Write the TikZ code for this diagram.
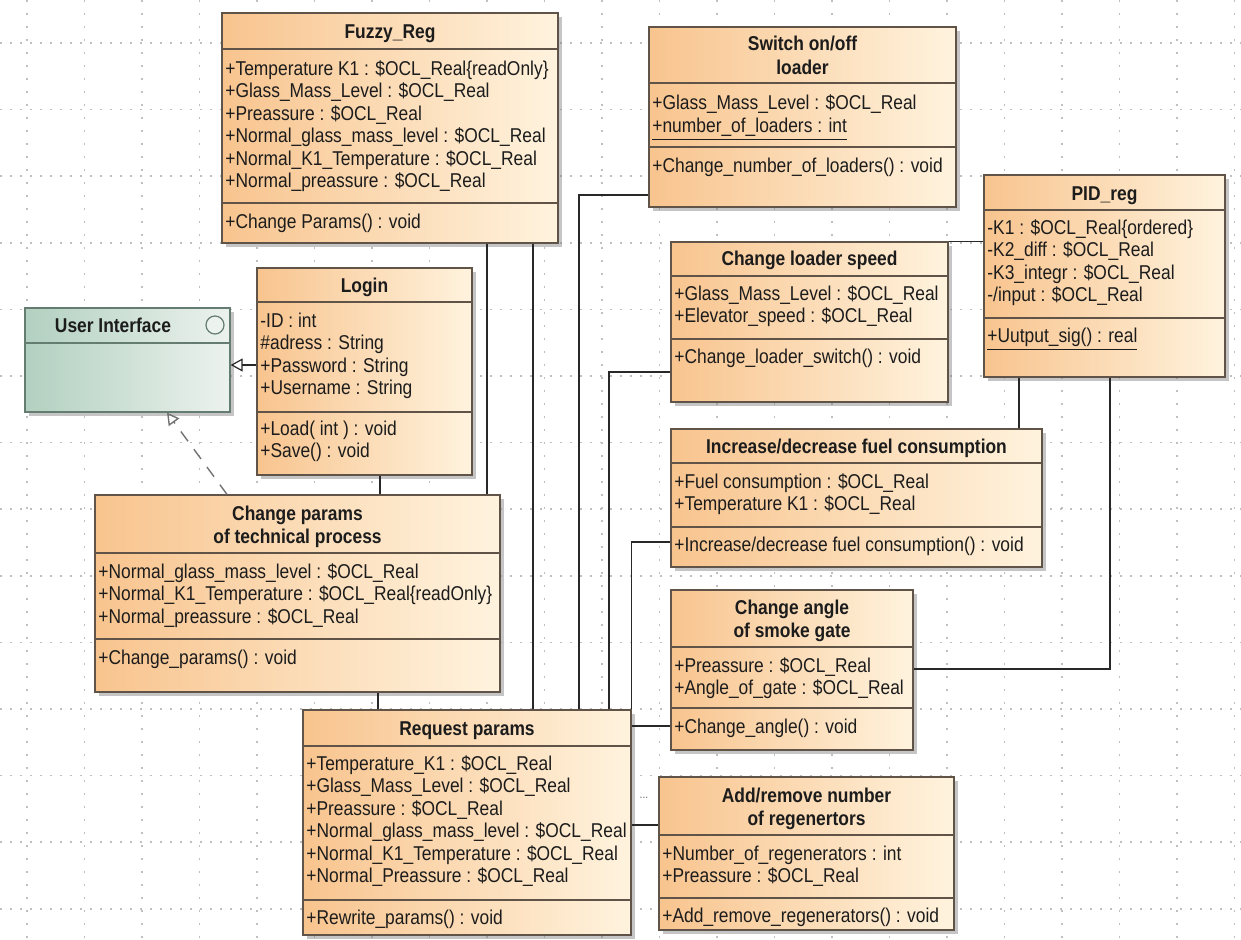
\documentclass[tikz,border=0pt]{standalone}
\usepackage{fontspec}
\setmainfont{Liberation Sans}[FakeStretch=0.87]
\usetikzlibrary{arrows.meta,shadows,fit}

\definecolor{classL}{RGB}{248,196,142}
\definecolor{classR}{RGB}{255,243,222}
\definecolor{ifaceL}{RGB}{178,208,192}
\definecolor{ifaceR}{RGB}{236,242,238}
\definecolor{boxline}{RGB}{96,84,72}
\definecolor{ifaceline}{RGB}{100,125,112}
\definecolor{txt}{RGB}{28,28,28}
\definecolor{connc}{RGB}{40,40,40}

\begin{document}
\begin{tikzpicture}[x=0.5pt, y=-0.5pt, font=\fontsize{10}{12}\selectfont,
	classbox/.style={draw=boxline, line width=0.6pt, left color=classL, right color=classR, inner sep=0pt,
		drop shadow={shadow xshift=1.8pt, shadow yshift=-1.8pt, fill=black!50, opacity=0.45}},
	ifacebox/.style={classbox, draw=ifaceline, left color=ifaceL, right color=ifaceR},
	sepline/.style={draw=boxline, line width=0.6pt},
	title/.style={font=\fontsize{10}{12}\selectfont\bfseries, text=txt, inner sep=0pt, text height=7.2pt, text depth=0pt},
	attr/.style={anchor=west, text=txt, inner sep=0pt, text height=7.2pt, text depth=0pt},
	conn/.style={draw=connc, line width=0.6pt},
	realize/.style={conn, -{Triangle[open, length=6pt, width=6.5pt]}},
	dep/.style={draw=black!55, line width=0.7pt, dash pattern=on 6pt off 5pt, -{Triangle[open, length=6pt, width=6.5pt]}},
	rowdots/.style={draw=black!25, line width=0.8pt, dash pattern=on 0.8pt off 4.2pt},
	coldots/.style={draw=black!25, line width=0.8pt, dash pattern=on 0.8pt off 5.7pt}]
	\def\dy{22.5} % line pitch
	
	\useasboundingbox (0,0) rectangle (1241,940);
	\fill[white] (0,0) rectangle (1241,940);
	
	% background grid
	\foreach \i in {0,...,21} \draw[coldots] ({27+57.5*\i},0) -- ({27+57.5*\i},940);
	\foreach \i in {0,...,13} \draw[rowdots] (0,{43+66.6*\i}) -- (1241,{43+66.6*\i});
	
	% Fuzzy_Reg
	\node[classbox, fit={(222,13) (558,243)}] (fuzzy) {};
	\draw[sepline] (fuzzy.west |- 0,49) -- (fuzzy.east |- 0,49);
	\draw[sepline] (fuzzy.west |- 0,203) -- (fuzzy.east |- 0,203);
	\node[title] (fuzzy-t) at (390,31) {Fuzzy\_Reg};
	\foreach \s [count=\i] in {{+Temperature K1 : \$OCL\_Real\{readOnly\}}, {+Glass\_Mass\_Level : \$OCL\_Real},
		{+Preassure : \$OCL\_Real}, {+Normal\_glass\_mass\_level : \$OCL\_Real},
		{+Normal\_K1\_Temperature : \$OCL\_Real}, {+Normal\_preassure : \$OCL\_Real}}
	\node[attr] (fuzzy-a\i) at (225,{68+\dy*(\i-1)}) {\s};
	\node[attr] (fuzzy-o1) at (225,221) {+Change Params() : void};
	
	% User Interface
	\node[ifacebox, fit={(25,308) (230,412)}] (ui) {};
	\draw[draw=ifaceline, line width=0.6pt] (ui.west |- 0,343) -- (ui.east |- 0,343);
	\node[title] (ui-t) at (113,325) {User Interface};
	\draw[draw=ifaceline, fill=ifaceR, line width=0.6pt] (215,325) circle (9);
	
	% Login
	\node[classbox, fit={(257,268) (472,475)}] (login) {};
	\draw[sepline] (login.west |- 0,302) -- (login.east |- 0,302);
	\draw[sepline] (login.west |- 0,412) -- (login.east |- 0,412);
	\node[title] (login-t) at (364.5,285) {Login};
	\foreach \s [count=\i] in {{-ID : int}, {\#adress : String}, {+Password : String}, {+Username : String}}
	\node[attr] (login-a\i) at (260,{320+\dy*(\i-1)}) {\s};
	\foreach \s [count=\i] in {{+Load( int ) : void}, {+Save() : void}}
	\node[attr] (login-o\i) at (260,{428+\dy*(\i-1)}) {\s};
	
	% Change params of technical process
	\node[classbox, fit={(95,495) (500,692)}] (chg) {};
	\draw[sepline] (chg.west |- 0,553) -- (chg.east |- 0,553);
	\draw[sepline] (chg.west |- 0,639) -- (chg.east |- 0,639);
	\node[title] (chg-t1) at (297.5,513) {Change params};
	\node[title] (chg-t2) at (297.5,536) {of technical process};
	\foreach \s [count=\i] in {{+Normal\_glass\_mass\_level : \$OCL\_Real},
		{+Normal\_K1\_Temperature : \$OCL\_Real\{readOnly\}}, {+Normal\_preassure : \$OCL\_Real}}
	\node[attr] (chg-a\i) at (98,{571+\dy*(\i-1)}) {\s};
	\node[attr] (chg-o1) at (98,657) {+Change\_params() : void};
	
	% Request params
	\node[classbox, fit={(303,710) (631,935)}] (req) {};
	\draw[sepline] (req.west |- 0,746) -- (req.east |- 0,746);
	\draw[sepline] (req.west |- 0,900) -- (req.east |- 0,900);
	\node[title] (req-t) at (467,728) {Request params};
	\foreach \s [count=\i] in {{+Temperature\_K1 : \$OCL\_Real}, {+Glass\_Mass\_Level : \$OCL\_Real},
		{+Preassure : \$OCL\_Real}, {+Normal\_glass\_mass\_level : \$OCL\_Real},
		{+Normal\_K1\_Temperature : \$OCL\_Real}, {+Normal\_Preassure : \$OCL\_Real}}
	\node[attr] (req-a\i) at (306,{763+\dy*(\i-1)}) {\s};
	\node[attr] (req-o1) at (306,917) {+Rewrite\_params() : void};
	
	% Switch on/off loader
	\node[classbox, fit={(649,27) (956,207)}] (switch) {};
	\draw[sepline] (switch.west |- 0,83) -- (switch.east |- 0,83);
	\draw[sepline] (switch.west |- 0,147) -- (switch.east |- 0,147);
	\node[title] (switch-t1) at (802.5,43) {Switch on/off};
	\node[title] (switch-t2) at (802.5,67) {loader};
	\node[attr] (switch-a1) at (652,102) {+Glass\_Mass\_Level : \$OCL\_Real};
	\node[attr] (switch-a2) at (652,125) {\underline{+number\_of\_loaders : int}};
	\node[attr] (switch-o1) at (652,165) {+Change\_number\_of\_loaders() : void};
	
	% Change loader speed
	\node[classbox, fit={(671,242) (948,402)}] (cls) {};
	\draw[sepline] (cls.west |- 0,276) -- (cls.east |- 0,276);
	\draw[sepline] (cls.west |- 0,339) -- (cls.east |- 0,339);
	\node[title] (cls-t) at (809.5,258) {Change loader speed};
	\node[attr] (cls-a1) at (674,293) {+Glass\_Mass\_Level : \$OCL\_Real};
	\node[attr] (cls-a2) at (674,315) {+Elevator\_speed : \$OCL\_Real};
	\node[attr] (cls-o1) at (674,356) {+Change\_loader\_switch() : void};
	
	% PID_reg
	\node[classbox, fit={(984,175) (1225,377)}] (pid) {};
	\draw[sepline] (pid.west |- 0,210) -- (pid.east |- 0,210);
	\draw[sepline] (pid.west |- 0,318) -- (pid.east |- 0,318);
	\node[title] (pid-t) at (1104.5,193) {PID\_reg};
	\foreach \s [count=\i] in {{-K1 : \$OCL\_Real\{ordered\}}, {-K2\_diff : \$OCL\_Real},
		{-K3\_integr : \$OCL\_Real}, {-/input : \$OCL\_Real}}
	\node[attr] (pid-a\i) at (987,{227+\dy*(\i-1)}) {\s};
	\node[attr] (pid-o1) at (987,335) {\underline{+Uutput\_sig() : real}};
	
	% Increase/decrease fuel consumption
	\node[classbox, fit={(671,429) (1042,567)}] (incr) {};
	\draw[sepline] (incr.west |- 0,463) -- (incr.east |- 0,463);
	\draw[sepline] (incr.west |- 0,527) -- (incr.east |- 0,527);
	\node[title] (incr-t) at (856.5,446) {Increase/decrease fuel consumption};
	\node[attr] (incr-a1) at (674,481) {+Fuel consumption : \$OCL\_Real};
	\node[attr] (incr-a2) at (674,503) {+Temperature K1 : \$OCL\_Real};
	\node[attr] (incr-o1) at (674,544) {+Increase/decrease fuel consumption() : void};
	
	% Change angle of smoke gate
	\node[classbox, fit={(671,590) (913,750)}] (angle) {};
	\draw[sepline] (angle.west |- 0,647) -- (angle.east |- 0,647);
	\draw[sepline] (angle.west |- 0,708) -- (angle.east |- 0,708);
	\node[title] (angle-t1) at (792,607) {Change angle};
	\node[title] (angle-t2) at (792,630) {of smoke gate};
	\node[attr] (angle-a1) at (674,665) {+Preassure : \$OCL\_Real};
	\node[attr] (angle-a2) at (674,687) {+Angle\_of\_gate : \$OCL\_Real};
	\node[attr] (angle-o1) at (674,726) {+Change\_angle() : void};
	
	% Add/remove number of regenertors
	\node[classbox, fit={(659,777) (954,930)}] (addrem) {};
	\draw[sepline] (addrem.west |- 0,835) -- (addrem.east |- 0,835);
	\draw[sepline] (addrem.west |- 0,898) -- (addrem.east |- 0,898);
	\node[title] (addrem-t1) at (806.5,795) {Add/remove number};
	\node[title] (addrem-t2) at (806.5,818) {of regenertors};
	\node[attr] (addrem-a1) at (662,853) {+Number\_of\_regenerators : int};
	\node[attr] (addrem-a2) at (662,875) {+Preassure : \$OCL\_Real};
	\node[attr] (addrem-o1) at (662,915) {+Add\_remove\_regenerators() : void};
	
	% small mark beside Request params
	\node[font=\fontsize{6}{6}\selectfont, text=black!60, inner sep=0pt] (dots) at (644,798) {...};
	
	% connector positions
	\coordinate (fzA) at (487,0);
	\coordinate (fzB) at (533,0);
	\coordinate (lgX) at (380,0);
	\coordinate (cpX) at (378,0);
	\coordinate (swY) at (0,195);
	\coordinate (swX) at (579,0);
	\coordinate (clY) at (0,372);
	\coordinate (clX) at (609,0);
	\coordinate (icY) at (0,542);
	\coordinate (caY) at (0,726);
	\coordinate (arY) at (0,825);
	\coordinate (pidA) at (1019,0);
	\coordinate (pidB) at (1110,0);
	\coordinate (gateY) at (0,669);
	\coordinate (uiY) at (0,365);
	\coordinate (depA) at (227,0);
	\coordinate (depB) at (167,0);
	
	% associations
	\draw[conn] (fuzzy.south -| fzA) -- (chg.north -| fzA);
	\draw[conn] (fuzzy.south -| fzB) -- (req.north -| fzB);
	\draw[conn] (login.south -| lgX) -- (chg.north -| lgX);
	\draw[conn] (chg.south -| cpX) -- (req.north -| cpX);
	\draw[conn] (switch.west |- swY) -| (req.north -| swX);
	\draw[conn] (cls.west |- clY) -| (req.north -| clX);
	\draw[conn] (incr.west |- icY) -| (req.north east);
	\draw[conn] (req.east |- caY) -- (angle.west |- caY);
	\draw[conn] (req.east |- arY) -- (addrem.west |- arY);
	\draw[conn] (pid.south -| pidA) -- (incr.north -| pidA);
	\draw[conn] (pid.south -| pidB) |- (angle.east |- gateY);
	\draw[conn] (cls.north east) -- (pid.west |- cls.north east);
	
	% realizations of the interface
	\draw[realize] (login.west |- uiY) -- (ui.east |- uiY);
	\draw[dep] (chg.north -| depA) -- (ui.south -| depB);
\end{tikzpicture}
\end{document}
